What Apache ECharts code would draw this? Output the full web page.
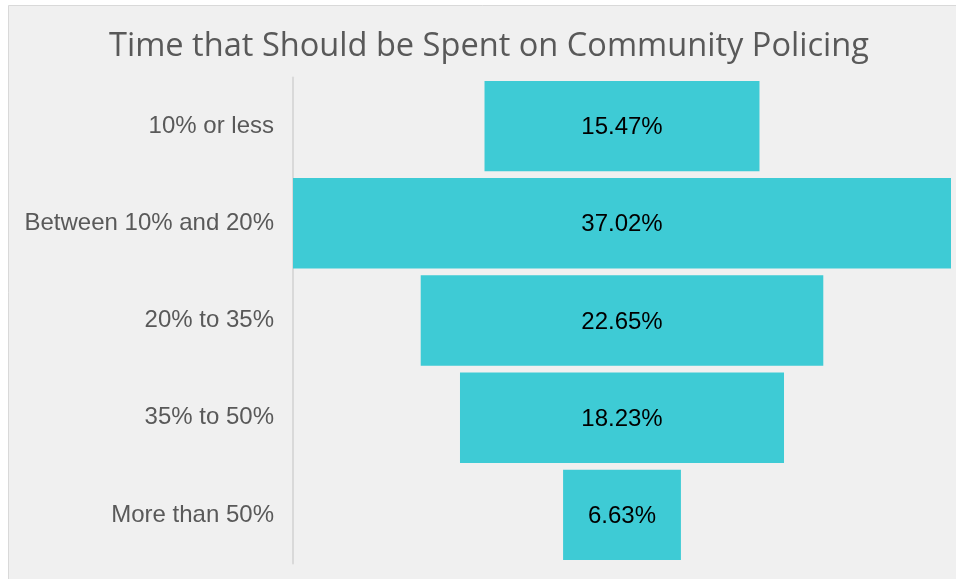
<!DOCTYPE html>
<html>
<head>
<meta charset="utf-8">
<script src="https://cdn.jsdelivr.net/npm/echarts@6/dist/echarts.min.js"></script>
<style>
  html, body { margin: 0; padding: 0; background: #ffffff; overflow: hidden; }
  #chart { width: 956px; height: 579px; }
</style>
</head>
<body>
<div id="chart"></div>
<script>
// Share of respondents per answer
const categories = ['10% or less', 'Between 10% and 20%', '20% to 35%', '35% to 50%', 'More than 50%'];
const shares = [15.47, 37.02, 22.65, 18.23, 6.63];

// Bars are centred: an invisible spacer pushes each bar half the remaining width in
const maxShare = Math.max(...shares);
const spacers = shares.map(v => (maxShare - v) / 2);

const chart = echarts.init(document.getElementById('chart'), null, { renderer: 'canvas' });
chart.setOption({
  backgroundColor: '#ffffff',
  animation: false,
  graphic: [{
    type: 'rect',
    z: -10,
    shape: { x: 8.5, y: 5.5, width: 1000, height: 1000 },
    style: { fill: '#f0f0f0', stroke: '#d9d9d9', lineWidth: 1 }
  }],
  title: {
    text: 'Time that Should be Spent on Community Policing',
    left: 484,
    textAlign: 'center',
    top: 25,
    textStyle: { fontFamily: 'Open Sans', fontSize: 32.6, fontWeight: 'normal', color: '#595959' }
  },
  grid: { left: 293, right: 5, top: 77.5, height: 486, containLabel: false },
  xAxis: { type: 'value', min: 0, max: maxShare, show: false },
  yAxis: {
    type: 'category',
    inverse: true,
    data: categories,
    axisLine: { show: true, lineStyle: { color: '#d9d9d9', width: 2 } },
    axisTick: { show: false },
    axisLabel: { fontFamily: 'Liberation Sans', fontSize: 24, color: '#595959', margin: 19, padding: [5, 0, 0, 0] }
  },
  series: [
    {
      type: 'bar', stack: 'f', data: spacers, silent: true,
      itemStyle: { color: 'transparent' }, barCategoryGap: '7%'
    },
    {
      type: 'bar', stack: 'f', data: shares, barCategoryGap: '7%',
      itemStyle: { color: '#3ecbd5' },
      label: {
        show: true, position: 'inside', offset: [0, 1.5],
        formatter: p => p.value.toFixed(2) + '%',
        fontFamily: 'Liberation Sans', fontSize: 24, color: '#000000'
      }
    }
  ]
});
</script>
</body>
</html>
